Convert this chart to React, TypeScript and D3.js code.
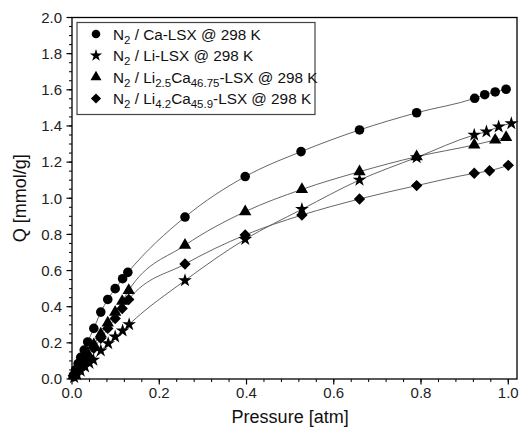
import React from "react";
import * as d3 from "d3";

const caP = [0.003, 0.008, 0.014, 0.02, 0.028, 0.036, 0.05, 0.066, 0.082, 0.099, 0.116, 0.128, 0.259, 0.397, 0.525, 0.659, 0.79, 0.923, 0.946, 0.97, 0.995];
const caQ = [0.02, 0.05, 0.085, 0.12, 0.16, 0.205, 0.28, 0.37, 0.44, 0.5, 0.555, 0.59, 0.896, 1.12, 1.258, 1.378, 1.473, 1.553, 1.573, 1.588, 1.603];

const liP = [0.005, 0.012, 0.02, 0.03, 0.04, 0.049, 0.066, 0.083, 0.099, 0.116, 0.131, 0.259, 0.397, 0.527, 0.659, 0.79, 0.922, 0.95, 0.978, 1.007];
const liQ = [0.01, 0.025, 0.045, 0.068, 0.088, 0.105, 0.157, 0.197, 0.234, 0.267, 0.302, 0.545, 0.773, 0.939, 1.101, 1.226, 1.35, 1.368, 1.396, 1.414];

const triP = [0.004, 0.01, 0.018, 0.026, 0.036, 0.05, 0.066, 0.082, 0.099, 0.115, 0.13, 0.259, 0.397, 0.527, 0.659, 0.79, 0.922, 0.97, 0.995];
const triQ = [0.02, 0.045, 0.075, 0.105, 0.14, 0.19, 0.25, 0.31, 0.37, 0.43, 0.49, 0.74, 0.926, 1.049, 1.147, 1.23, 1.295, 1.322, 1.337];

const diaP = [0.004, 0.01, 0.018, 0.026, 0.036, 0.05, 0.066, 0.082, 0.099, 0.115, 0.13, 0.259, 0.397, 0.527, 0.659, 0.79, 0.922, 0.957, 1.0];
const diaQ = [0.015, 0.04, 0.065, 0.09, 0.125, 0.17, 0.225, 0.28, 0.335, 0.39, 0.44, 0.636, 0.797, 0.907, 0.996, 1.07, 1.138, 1.152, 1.182];

const xTicks = [0, 0.2, 0.4, 0.6, 0.8, 1.0];
const yTicks = [0, 0.2, 0.4, 0.6, 0.8, 1.0, 1.2, 1.4, 1.6, 1.8, 2.0];

const W = 522;
const H = 430;
const FONT = "'Liberation Sans', Arial, sans-serif";

const x = d3.scaleLinear().domain([0, 1.02]).range([72, 517]);
const y = d3.scaleLinear().domain([0, 2]).range([379, 17.5]);

type Kind = "circle" | "star" | "triangle" | "diamond";

function markerPath(kind: Kind, scale = 1): string {
  if (kind === "circle") return d3.symbol(d3.symbolCircle, 72 * scale)()!;
  if (kind === "star") return d3.symbol(d3.symbolStar, 58 * scale)()!;
  if (kind === "triangle") return d3.symbol(d3.symbolTriangle, 66 * scale)()!;
  const r = 5.7 * Math.sqrt(scale);
  return `M0,${-r}L${r},0L0,${r}L${-r},0Z`;
}

const series: { P: number[]; Q: number[]; kind: Kind }[] = [
  { P: caP, Q: caQ, kind: "circle" },
  { P: liP, Q: liQ, kind: "star" },
  { P: triP, Q: triQ, kind: "triangle" },
  { P: diaP, Q: diaQ, kind: "diamond" },
];

const line = d3
  .line<[number, number]>()
  .x((d) => x(d[0]))
  .y((d) => y(d[1]))
  .curve(d3.curveMonotoneX);

const xMinor = d3.range(0, 1.0001, 0.04);
const yMinor = d3.range(0, 2.0001, 0.05);

export default function App() {
  const legendRows = [
    { kind: "circle" as Kind, parts: [["N", ""], ["2", "sub"], [" / Ca-LSX @ 298 K", ""]] },
    { kind: "star" as Kind, parts: [["N", ""], ["2", "sub"], [" / Li-LSX @ 298 K", ""]] },
    {
      kind: "triangle" as Kind,
      parts: [["N", ""], ["2", "sub"], [" / Li", ""], ["2.5", "sub"], ["Ca", ""], ["46.75", "sub"], ["-LSX @ 298 K", ""]],
    },
    {
      kind: "diamond" as Kind,
      parts: [["N", ""], ["2", "sub"], [" / Li", ""], ["4.2", "sub"], ["Ca", ""], ["45.9", "sub"], ["-LSX @ 298 K", ""]],
    },
  ];
  const rowY = [34, 55.5, 77, 98.5];

  return (
    <svg
      width={W}
      height={H}
      style={{ position: "absolute", left: 0, top: 0, background: "#fff" }}
      fontFamily={FONT}
    >
      <rect x={0} y={0} width={W} height={H} fill="#fff" />
      {series.map((s, i) => (
        <path
          key={"l" + i}
          d={line(s.P.map((p, j) => [p, s.Q[j]] as [number, number]))!}
          fill="none"
          stroke="#555"
          strokeWidth={0.9}
        />
      ))}
      {series.map((s, i) =>
        s.P.map((p, j) => (
          <path
            key={"m" + i + "-" + j}
            d={markerPath(s.kind)}
            transform={`translate(${x(p)},${y(s.Q[j])})`}
            fill="#000"
          />
        ))
      )}
      <rect x={72} y={17.5} width={517 - 72} height={379 - 17.5} fill="none" stroke="#000" strokeWidth={1.3} />
      {xMinor.map((t, i) => (
        <line key={"xm" + i} x1={x(t)} x2={x(t)} y1={379} y2={382} stroke="#000" strokeWidth={1} />
      ))}
      {xTicks.map((t, i) => (
        <g key={"xt" + i}>
          <line x1={x(t)} x2={x(t)} y1={379} y2={384.5} stroke="#000" strokeWidth={1.2} />
          <text x={x(t)} y={398} textAnchor="middle" fontSize={15} fill="#222">
            {t.toFixed(1)}
          </text>
        </g>
      ))}
      {yMinor.map((t, i) => (
        <line key={"ym" + i} x1={69} x2={72} y1={y(t)} y2={y(t)} stroke="#000" strokeWidth={1} />
      ))}
      {yTicks.map((t, i) => (
        <g key={"yt" + i}>
          <line x1={66.5} x2={72} y1={y(t)} y2={y(t)} stroke="#000" strokeWidth={1.2} />
          <text x={62} y={y(t) + 5.3} textAnchor="end" fontSize={15} fill="#222">
            {t.toFixed(1)}
          </text>
        </g>
      ))}
      <text x={x(0.5)} y={423} textAnchor="middle" fontSize={18} fill="#111">
        Pressure [atm]
      </text>
      <text
        transform={`translate(26,${(17.5 + 379) / 2}) rotate(-90)`}
        textAnchor="middle"
        fontSize={18}
        fill="#111"
      >
        Q [mmol/g]
      </text>
      <rect x={77} y={22.5} width={238} height={92} fill="#fff" stroke="#444" strokeWidth={1.2} />
      {legendRows.map((r, i) => (
        <g key={"lg" + i}>
          <path d={markerPath(r.kind, 0.8)} transform={`translate(96,${rowY[i]})`} fill="#000" />
          <text x={113} y={rowY[i] + 5.5} fontSize={15.3} fill="#111">
            {r.parts.map((p, k) =>
              p[1] === "sub" ? (
                <tspan key={k} fontSize={11.5} dy={4}>
                  {p[0]}
                </tspan>
              ) : (
                <tspan key={k} dy={k > 0 && r.parts[k - 1][1] === "sub" ? -4 : 0}>
                  {p[0]}
                </tspan>
              )
            )}
          </text>
        </g>
      ))}
    </svg>
  );
}
